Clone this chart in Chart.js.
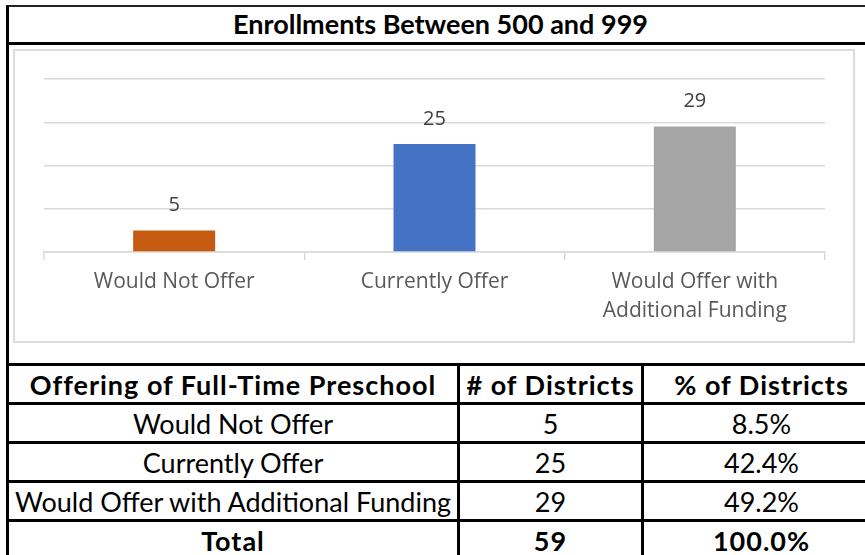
<!DOCTYPE html>
<html>
<head>
<meta charset="utf-8">
<script src="https://cdn.jsdelivr.net/npm/chart.js@4"></script>
<style>
  html, body { margin:0; padding:0; background:#fff; }
  body { width:865px; height:555px; overflow:hidden; position:relative; font-family: Lato, 'Open Sans', sans-serif; }
  #frame { position:absolute; left:6px; top:5px; width:880px; height:600px; border-left:3px solid #000; border-top:2px solid #222; box-sizing:border-box; }
  #title { position:absolute; left:6px; top:7px; width:880px; height:38px; border-bottom:3px solid #000; box-sizing:border-box;
           font-weight:700; font-size:27px; line-height:34px; text-align:center; padding-left:3px; padding-right:14px; color:#000; }
  #chartBox { position:absolute; left:13px; top:49px; width:842px; height:294px; border:2px solid #dcdcdc; box-sizing:border-box; }
  #chartBox canvas { position:absolute; left:0; top:0; }
  #tbl { position:absolute; left:6px; top:363px; width:873px; table-layout:fixed; border-collapse:collapse; font-size:27px; color:#000; }
  #tbl td { border:3px solid #000; height:36px; padding:0; text-align:center; vertical-align:middle; white-space:nowrap; overflow:visible; }
  #tbl tr:first-child td, #tbl tr:last-child td { font-weight:700; letter-spacing:1px; }
</style>
</head>
<body>
<div id="frame"></div>
<div id="title">Enrollments Between 500 and 999</div>
<div id="chartBox"><canvas id="chart" width="838" height="290"></canvas></div>
<table id="tbl"></table>
<script>
const categories = ['Would Not Offer', 'Currently Offer', 'Would Offer with Additional Funding'];
const axisLabels = ['Would Not Offer', 'Currently Offer', ['Would Offer with', 'Additional Funding']];
const districts  = [5, 25, 29];
const percents   = ['8.5%', '42.4%', '49.2%'];
const barColors  = ['#C55A11', '#4472C4', '#A5A5A5'];
const headers    = ['Offering of Full-Time Preschool', '# of Districts', '% of Districts'];
const totalRow   = ['Total', '59', '100.0%'];

// value labels above each bar
const valueLabels = {
  id: 'valueLabels',
  afterDatasetsDraw(chart) {
    const { ctx } = chart;
    ctx.save();
    ctx.font = '20px "Open Sans"';
    ctx.fillStyle = '#404040';
    ctx.textAlign = 'center';
    ctx.textBaseline = 'middle';
    chart.getDatasetMeta(0).data.forEach((bar, i) => {
      ctx.fillText(String(districts[i]), bar.x, bar.y - 25);
    });
    ctx.restore();
  }
};

new Chart(document.getElementById('chart').getContext('2d'), {
  type: 'bar',
  data: { labels: axisLabels, datasets: [{
    data: districts, backgroundColor: barColors, borderWidth: 0,
    categoryPercentage: 1, barPercentage: 0.315
  }]},
  options: {
    responsive: false, animation: false,
    layout: { padding: { left: 29, right: 28, top: 28, bottom: 0 } },
    plugins: { legend: { display: false }, tooltip: { enabled: false } },
    scales: {
      x: {
        grid: { offset: true, drawOnChartArea: false, drawTicks: true, tickLength: 8, color: '#d9d9d9', lineWidth: 1.5 },
        border: { display: true, color: '#d9d9d9', width: 1.5 },
        ticks: { color: '#595959', font: { family: 'Open Sans', size: 21, lineHeight: 1.4 }, padding: 7, maxRotation: 0, autoSkip: false },
        afterFit: s => { s.height = 89; }
      },
      y: {
        min: 0, max: 40,
        ticks: { display: false, stepSize: 10 },
        grid: { color: '#d9d9d9', lineWidth: 1.5, drawTicks: false },
        border: { display: false },
        afterFit: s => { s.width = 0; }
      }
    }
  },
  plugins: [valueLabels]
});

// table under the chart
const tbl = document.getElementById('tbl');
const widths = [451, 184, 238];
const rows = [headers, ...categories.map((c, i) => [c, String(districts[i]), percents[i]]), totalRow];
tbl.innerHTML = '<colgroup>' + widths.map(w => `<col style="width:${w}px">`).join('') + '</colgroup>' +
  rows.map(r => '<tr>' + r.map(v => `<td>${v}</td>`).join('') + '</tr>').join('');
</script>
</body>
</html>
